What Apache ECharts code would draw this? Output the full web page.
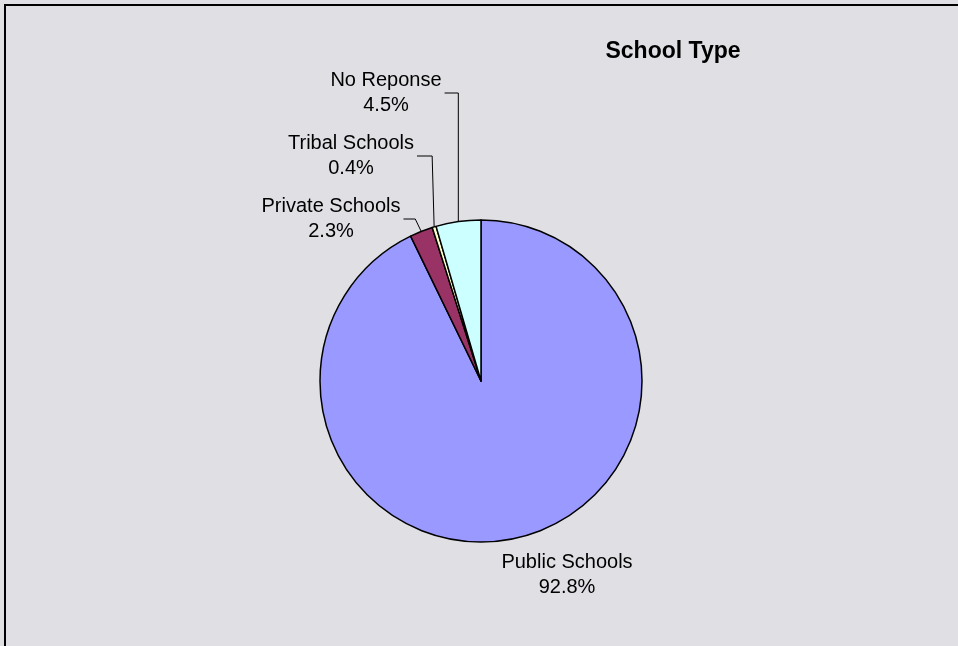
<!DOCTYPE html>
<html>
<head>
<meta charset="utf-8">
<script src="https://cdn.jsdelivr.net/npm/echarts@6/dist/echarts.min.js"></script>
<style>
html,body{margin:0;padding:0;background:#E0DFE4;}
#chart{width:958px;height:646px;}
</style>
</head>
<body>
<div id="chart"></div>
<script>
var categories = ['Public Schools', 'Private Schools', 'Tribal Schools', 'No Reponse'];
var values = [92.8, 2.3, 0.4, 4.5];
var colors = ['#9999FF', '#993366', '#FFFFCC', '#CCFFFF'];
var labelPos = [[567, 575], [331, 219], [351, 156], [386, 93]];
var bendDx = [0, -6, -2, 0];

var chart = echarts.init(document.getElementById('chart'));
var data = categories.map(function (c, i) {
  return { name: c, value: values[i], itemStyle: { color: colors[i] },
           labelLine: { show: i !== 0 } };
});
chart.setOption({
  backgroundColor: '#E0DFE4',
  animation: false,
  title: {
    text: 'School Type',
    left: 668, top: 35, textAlign: 'center',
    textStyle: { fontFamily: 'Liberation Sans, Arial', fontWeight: 'bold', fontSize: 23, color: '#000' }
  },
  graphic: [{
    type: 'rect', silent: true,
    shape: { x: 5, y: 5, width: 1000, height: 1000 },
    style: { fill: 'none', stroke: '#000', lineWidth: 2 }
  }],
  series: [{
    type: 'pie',
    center: [481, 381],
    radius: [0, 161],
    startAngle: 90,
    clockwise: true,
    avoidLabelOverlap: false,
    itemStyle: { borderColor: '#000', borderWidth: 1.5 },
    label: {
      show: true,
      position: 'outside',
      formatter: function (p) { return p.name + '\n' + p.value.toFixed(1) + '%'; },
      fontFamily: 'Liberation Sans, Arial',
      fontSize: 20,
      lineHeight: 25,
      color: '#000',
      align: 'center'
    },
    labelLine: { show: true, length: 10, length2: 10, lineStyle: { color: '#000', width: 1 } },
    labelLayout: function (p) {
      var i = p.dataIndex;
      var pos = labelPos[i];
      var res = { x: pos[0], y: pos[1], align: 'center', verticalAlign: 'middle' };
      if (i !== 0 && p.labelLinePoints) {
        var e = p.labelLinePoints[0];
        var right = pos[0] + p.labelRect.width / 2 + 3;
        res.labelLinePoints = [[e[0], e[1]], [e[0] + bendDx[i], pos[1]], [right, pos[1]]];
      }
      return res;
    },
    data: data
  }]
});
</script>
</body>
</html>
